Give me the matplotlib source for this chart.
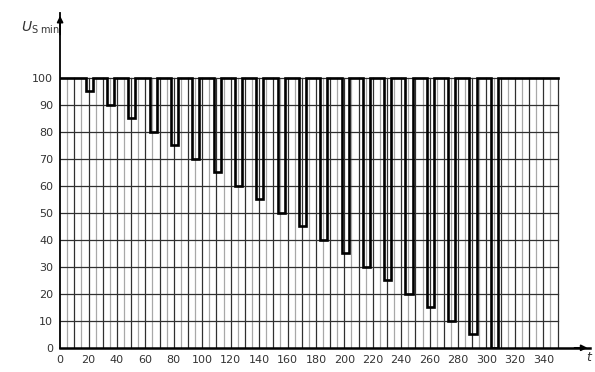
import matplotlib.pyplot as plt
import numpy as np

# dips of the test profile: start, end (t) and minimum level
dip_start = [18, 33, 48, 63, 78, 93, 108, 123, 138, 153,
             168, 183, 198, 213, 228, 243, 258, 273, 288, 303]
dip_end = [23, 38, 53, 68, 83, 98, 113, 128, 143, 158,
           173, 188, 203, 218, 233, 248, 263, 278, 293, 308]
dip_level = [95, 90, 85, 80, 75, 70, 65, 60, 55, 50,
             45, 40, 35, 30, 25, 20, 15, 10, 5, 0]
t_end = 350
u_max = 100

x_ticks = list(range(0, 341, 20))
y_ticks = list(range(0, 101, 10))

# build the step line
xs = [0]
ys = [u_max]
for s, e, lv in zip(dip_start, dip_end, dip_level):
    xs += [s, s, e, e]
    ys += [u_max, lv, lv, u_max]
xs.append(t_end)
ys.append(u_max)

fig = plt.figure(figsize=(5.95, 3.72), dpi=100)
ax = fig.add_axes([0.101, 0.065, 0.891, 0.90])
ax.set_xlim(0, 373)
ax.set_ylim(0, 124)

# grid
for x in range(5, t_end, 10):
    ax.plot([x, x], [0, u_max], color="#a8a8a8", lw=0.9, zorder=1)
for x in range(10, t_end + 1, 10):
    ax.plot([x, x], [0, u_max], color="#303030", lw=0.9, zorder=2)
for y in range(10, u_max + 1, 10):
    ax.plot([0, t_end], [y, y], color="#303030", lw=0.9, zorder=2)

ax.plot(xs, ys, color="black", lw=1.9, zorder=3, solid_joinstyle="miter")

for sp in ["top", "right"]:
    ax.spines[sp].set_visible(False)
ax.spines["left"].set_linewidth(1.3)
ax.spines["bottom"].set_linewidth(1.8)

ax.annotate("", xy=(0, 124), xytext=(0, 115),
            arrowprops=dict(arrowstyle="-|>", color="black", lw=1.2,
                            mutation_scale=9), annotation_clip=False)
ax.annotate("", xy=(373, 0), xytext=(360, 0),
            arrowprops=dict(arrowstyle="-|>", color="black", lw=1.2,
                            mutation_scale=9), annotation_clip=False)

ax.set_xticks(x_ticks)
ax.set_yticks(y_ticks)
ax.tick_params(length=0, labelsize=8, colors="#333333", pad=5)

fig.text(0.035, 0.915, r"$U_{\mathrm{S\ min}}$", fontsize=10, color="#333333")
fig.text(0.993, 0.03, "t", fontsize=9, style="italic", color="#333333",
         ha="right")

fig.savefig("out.png", dpi=100)
